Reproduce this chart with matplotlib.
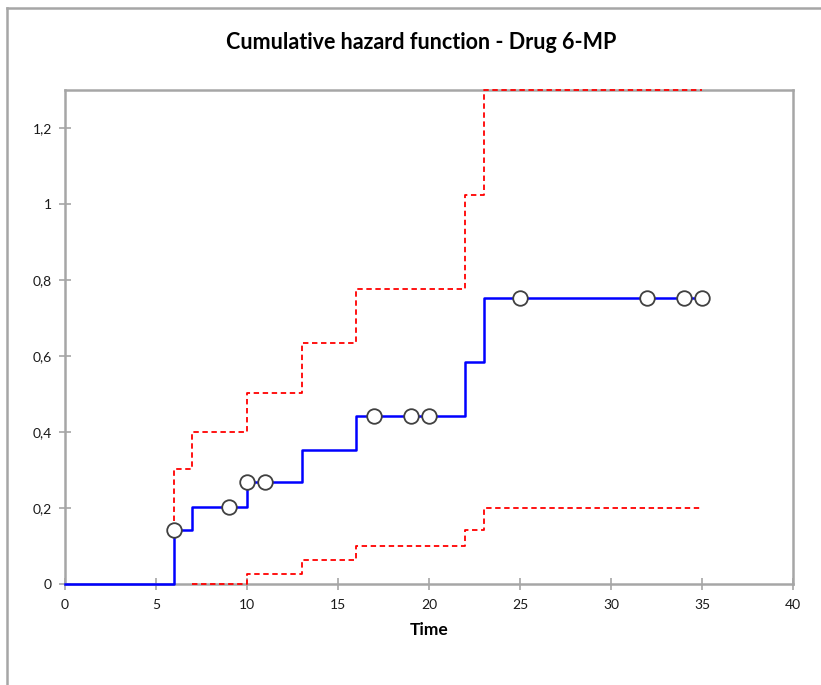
import matplotlib
matplotlib.use('Agg')
import matplotlib.pyplot as plt
from matplotlib.lines import Line2D

# data
time_steps = [0, 6, 7, 10, 13, 16, 22, 23, 35]
hazard = [0, 0.143, 0.202, 0.268, 0.352, 0.443, 0.585, 0.752, 0.752]

upper_time = [6, 6, 7, 10, 13, 16, 22, 23, 35]
upper = [0.143, 0.304, 0.399, 0.504, 0.635, 0.777, 1.024, 1.3, 1.3]

lower_time = [7, 10, 13, 16, 22, 23, 35]
lower = [0, 0.026, 0.063, 0.100, 0.142, 0.200, 0.200]

censored_time = [6, 9, 10, 11, 17, 19, 20, 25, 32, 34, 35]
censored_hazard = [0.143, 0.202, 0.268, 0.268, 0.443, 0.443, 0.443, 0.752, 0.752, 0.752, 0.752]

x_ticks = [0, 5, 10, 15, 20, 25, 30, 35, 40]
y_ticks = [0, 0.2, 0.4, 0.6, 0.8, 1, 1.2]
y_labels = ['0', '0,2', '0,4', '0,6', '0,8', '1', '1,2']

plt.rcParams['font.family'] = ['Lato', 'DejaVu Sans']

fig = plt.figure(figsize=(8.21, 6.85), dpi=100)
ax = fig.add_axes([0.0792, 0.1474, 0.8867, 0.7212])

axis_grey = '#a6a6a6'

ax.plot(lower_time, lower, drawstyle='steps-post', color='#ff0000',
        linestyle=(0, (3, 2)), linewidth=1.3, zorder=3, clip_on=False)
ax.plot(upper_time, upper, drawstyle='steps-post', color='#ff0000',
        linestyle=(0, (3, 2)), linewidth=1.3, zorder=3, clip_on=False)
ax.plot(time_steps, hazard, drawstyle='steps-post', color='#0000ff',
        linewidth=1.8, zorder=4, clip_on=False)
ax.plot(censored_time, censored_hazard, linestyle='none', marker='o',
        markersize=10.5, markerfacecolor='white', markeredgecolor='#404040',
        markeredgewidth=1.3, zorder=5, clip_on=False)

ax.set_xlim(0, 40)
ax.set_ylim(0, 1.3)
ax.set_xticks(x_ticks)
ax.set_xticklabels([str(t) for t in x_ticks])
ax.set_yticks(y_ticks)
ax.set_yticklabels(y_labels)

for s in ax.spines.values():
    s.set_color(axis_grey)
    s.set_linewidth(1.8)

ax.tick_params(axis='both', direction='inout', length=9, width=1.2,
               color=axis_grey, labelsize=10, labelcolor='#1a1a1a')
ax.tick_params(axis='x', pad=6)
ax.tick_params(axis='y', pad=5)

ax.set_xlabel('Time', fontsize=12.5, fontweight='bold', labelpad=8)
fig.text(0.513, 0.938, 'Cumulative hazard function - Drug 6-MP',
         ha='center', va='center', fontsize=15.5, fontweight='bold')

# outer chart border (only top and left edges are visible)
fig.add_artist(Line2D([0.0085, 0.0085], [0, 0.989], color=axis_grey,
                      linewidth=1.8, transform=fig.transFigure))
fig.add_artist(Line2D([0.0085, 1], [0.989, 0.989], color=axis_grey,
                      linewidth=1.8, transform=fig.transFigure))

fig.savefig('out.png', dpi=100)
